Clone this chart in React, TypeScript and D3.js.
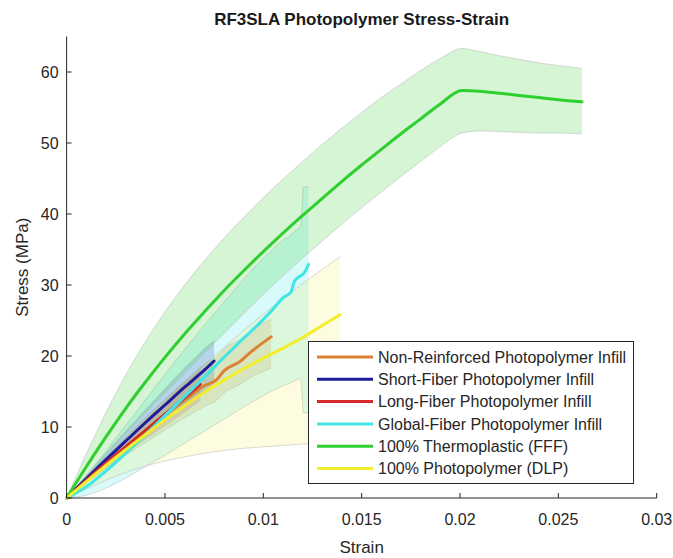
import React from 'react';
import * as d3 from 'd3';

// axis ticks
const strainTicks = [0, 0.005, 0.01, 0.015, 0.02, 0.025, 0.03];
const stressTicks = [0, 10, 20, 30, 40, 50, 60];

// Non-Reinforced Photopolymer Infill
const orangeStrain = [0, 0.001, 0.002, 0.003, 0.004, 0.005, 0.006, 0.007, 0.0076, 0.008, 0.0088, 0.0093, 0.0098, 0.0104];
const orangeStress = [0, 2.5, 4.9, 7.2, 9.5, 11.7, 13.8, 15.8, 16.6, 17.9, 19.2, 20.4, 21.5, 22.7];
const orangeUpper = [0, 2.9, 5.8, 8.6, 11.3, 13.9, 16.4, 18.8, 19.8, 21.0, 22.3, 23.3, 24.3, 25.2];
const orangeLower = [0, 2.1, 4.1, 6.0, 7.8, 9.6, 11.3, 12.9, 13.7, 14.8, 16.0, 16.9, 17.6, 18.3];

// Short-Fiber Photopolymer Infill
const blueStrain = [0, 0.001, 0.002, 0.003, 0.004, 0.005, 0.006, 0.007, 0.0075];
const blueStress = [0, 2.7, 5.4, 8.0, 10.6, 13.1, 15.6, 18.0, 19.3];
const blueUpper = [0, 3.1, 6.3, 9.4, 12.4, 15.4, 18.3, 21.0, 22.2];
const blueLower = [0, 2.3, 4.6, 6.8, 8.9, 11.0, 13.0, 15.0, 16.2];

// Long-Fiber Photopolymer Infill
const redStrain = [0, 0.001, 0.002, 0.003, 0.004, 0.005, 0.006, 0.0068];
const redStress = [0, 2.5, 4.9, 7.2, 9.5, 11.8, 14.1, 16.0];
const redUpper = [0, 2.8, 5.6, 8.3, 11.0, 13.6, 16.2, 18.2];
const redLower = [0, 2.2, 4.3, 6.3, 8.3, 10.2, 12.1, 13.8];

// Global-Fiber Photopolymer Infill
const cyanStrain = [0, 0.001, 0.002, 0.003, 0.004, 0.005, 0.006, 0.007, 0.008, 0.009, 0.0098, 0.0104, 0.011, 0.0114, 0.0116, 0.0119, 0.01205, 0.0123];
const cyanStress = [0, 1.6, 3.8, 6.3, 8.9, 11.6, 14.3, 17.0, 19.8, 22.5, 24.6, 26.3, 28.2, 29.0, 30.6, 31.3, 31.6, 32.9];
const cyanUpper = [0, 3.2, 6.6, 10.2, 13.8, 17.4, 20.9, 24.3, 27.6, 30.8, 33.2, 34.8, 36.3, 37.0, 37.6, 38.3, 43.8, 43.8];
const cyanLower = [0, 0.4, 1.4, 2.8, 4.4, 6.0, 7.7, 9.4, 11.1, 12.8, 14.1, 15.0, 15.8, 16.2, 16.5, 16.8, 12.0, 12.0];

// 100% Thermoplastic (FFF)
const greenStrain = [0, 0.001, 0.002, 0.003, 0.004, 0.005, 0.006, 0.007, 0.008, 0.009, 0.01, 0.011, 0.012, 0.013, 0.014, 0.015, 0.016, 0.017, 0.018, 0.019, 0.0201, 0.021, 0.022, 0.023, 0.024, 0.025, 0.0262];
const greenStress = [0, 4.4, 8.6, 12.6, 16.3, 19.8, 23.1, 26.2, 29.2, 32.0, 34.7, 37.3, 39.8, 42.2, 44.6, 46.9, 49.1, 51.3, 53.4, 55.5, 57.4, 57.3, 57.0, 56.7, 56.4, 56.1, 55.8];
const greenUpper = [0, 6.2, 12.0, 17.3, 22.0, 26.2, 30.0, 33.4, 36.6, 39.5, 42.3, 44.9, 47.4, 49.8, 52.1, 54.3, 56.4, 58.3, 60.2, 61.9, 63.3, 62.9, 62.3, 61.8, 61.3, 60.9, 60.5];
const greenLower = [0, 3.0, 6.0, 9.0, 11.9, 14.8, 17.6, 20.4, 23.2, 26.0, 28.7, 31.3, 33.8, 36.2, 38.6, 40.9, 43.1, 45.3, 47.4, 49.5, 51.4, 51.7, 51.6, 51.5, 51.4, 51.4, 51.3];

// 100% Photopolymer (DLP)
const yellowStrain = [0, 0.001, 0.002, 0.003, 0.004, 0.005, 0.006, 0.007, 0.008, 0.009, 0.01, 0.011, 0.012, 0.013, 0.0139];
const yellowStress = [0, 2.3, 4.6, 6.8, 8.9, 11.0, 13.0, 14.9, 16.6, 18.2, 19.7, 21.1, 22.6, 24.3, 25.8];
const yellowUpper = [0, 2.9, 5.7, 8.5, 11.2, 13.8, 16.3, 18.8, 21.2, 23.6, 25.9, 28.1, 30.2, 32.2, 34.0];
const yellowLower = [0, 1.3, 2.5, 3.6, 4.5, 5.2, 5.8, 6.3, 6.7, 7.0, 7.2, 7.4, 7.6, 7.8, 8.0];

const seriesNames = [
  'Non-Reinforced Photopolymer Infill',
  'Short-Fiber Photopolymer Infill',
  'Long-Fiber Photopolymer Infill',
  'Global-Fiber Photopolymer Infill',
  '100% Thermoplastic (FFF)',
  '100% Photopolymer (DLP)',
];
const seriesColors = ['#dd8033', '#1c1c9c', '#d42a2a', '#40e6e6', '#2ecf2e', '#f2ee2e'];

const series = [
  { x: orangeStrain, y: orangeStress, hi: orangeUpper, lo: orangeLower },
  { x: blueStrain, y: blueStress, hi: blueUpper, lo: blueLower },
  { x: redStrain, y: redStress, hi: redUpper, lo: redLower },
  { x: cyanStrain, y: cyanStress, hi: cyanUpper, lo: cyanLower },
  { x: greenStrain, y: greenStress, hi: greenUpper, lo: greenLower },
  { x: yellowStrain, y: yellowStress, hi: yellowUpper, lo: yellowLower },
];

const width = 673;
const height = 558;
const marginLeft = 66.6;
const marginRight = 16.3;
const marginTop = 36.5;
const marginBottom = 60;
const font = 'Liberation Sans, Arial, Helvetica, sans-serif';
const axisColor = '#262626';

export default function App() {
  const xScale = d3.scaleLinear().domain([0, 0.03]).range([marginLeft, width - marginRight]);
  const yScale = d3.scaleLinear().domain([0, 65]).range([height - marginBottom, marginTop]);

  const fmt = (v: number) => (v === 0 ? '0' : String(v));
  const x0 = xScale(0);
  const y0 = yScale(0);
  const xMid = (x0 + xScale(0.03)) / 2;
  const curve = d3.curveMonotoneX;

  return (
    <svg
      width={width}
      height={height}
      style={{ position: 'absolute', left: 0, top: 0, background: '#fff' }}
      fontFamily={font}
    >
      {/* shaded bands */}
      {series.map((s, i) => {
        const idx = d3.range(s.x.length);
        const band = d3
          .area<number>()
          .curve(curve)
          .x((j) => xScale(s.x[j]))
          .y0((j) => yScale(s.lo[j]))
          .y1((j) => yScale(s.hi[j]));
        const up = d3.line<number>().curve(curve).x((j) => xScale(s.x[j])).y((j) => yScale(s.hi[j]));
        const dn = d3.line<number>().curve(curve).x((j) => xScale(s.x[j])).y((j) => yScale(s.lo[j]));
        return (
          <g key={'band' + i}>
            <path d={band(idx) || ''} fill={seriesColors[i]} fillOpacity={i === 5 ? 0.15 : 0.2} stroke="none" />
            <path d={up(idx) || ''} fill="none" stroke="#b5b5b5" strokeOpacity={0.5} strokeWidth={1} />
            <path d={dn(idx) || ''} fill="none" stroke="#b5b5b5" strokeOpacity={0.5} strokeWidth={1} />
          </g>
        );
      })}

      {/* mean curves */}
      {series.map((s, i) => {
        const idx = d3.range(s.x.length);
        const l = d3.line<number>().curve(curve).x((j) => xScale(s.x[j])).y((j) => yScale(s.y[j]));
        return (
          <path
            key={'line' + i}
            d={l(idx) || ''}
            fill="none"
            stroke={seriesColors[i]}
            strokeWidth={3}
            strokeLinejoin="round"
            strokeLinecap="round"
          />
        );
      })}

      {/* axes */}
      <line x1={x0} x2={xScale(0.03)} y1={y0} y2={y0} stroke={axisColor} strokeWidth={1} />
      <line x1={x0} x2={x0} y1={y0} y2={yScale(65)} stroke={axisColor} strokeWidth={1} />
      {strainTicks.map((t) => (
        <g key={'xt' + t}>
          <line x1={xScale(t)} x2={xScale(t)} y1={y0} y2={y0 - 5} stroke={axisColor} />
          <text x={xScale(t)} y={y0 + 27} textAnchor="middle" fontSize={16} fill={axisColor}>
            {fmt(t)}
          </text>
        </g>
      ))}
      {stressTicks.map((t) => (
        <g key={'yt' + t}>
          <line x1={x0} x2={x0 + 5} y1={yScale(t)} y2={yScale(t)} stroke={axisColor} />
          <text x={x0 - 8} y={yScale(t) + 6} textAnchor="end" fontSize={16} fill={axisColor}>
            {fmt(t)}
          </text>
        </g>
      ))}

      {/* labels */}
      <text x={xMid} y={25} textAnchor="middle" fontSize={17} fontWeight="bold" fill="#1a1a1a">
        RF3SLA Photopolymer Stress-Strain
      </text>
      <text x={xMid} y={553} textAnchor="middle" fontSize={17} fill={axisColor}>
        Strain
      </text>
      <text
        transform={`translate(28,${(yScale(0) + yScale(65)) / 2}) rotate(-90)`}
        textAnchor="middle"
        fontSize={17}
        fill={axisColor}
      >
        Stress (MPa)
      </text>

      {/* legend */}
      <g>
        <rect x={308.5} y={341.5} width={325} height={142} fill="#fff" stroke={axisColor} strokeWidth={1} />
        {seriesNames.map((name, i) => {
          const cy = 357 + i * 22.3;
          return (
            <g key={'lg' + i}>
              <line x1={317} x2={373} y1={cy} y2={cy} stroke={seriesColors[i]} strokeWidth={3} />
              <text x={378} y={cy + 5.8} fontSize={16} fill={axisColor}>
                {name}
              </text>
            </g>
          );
        })}
      </g>
    </svg>
  );
}
